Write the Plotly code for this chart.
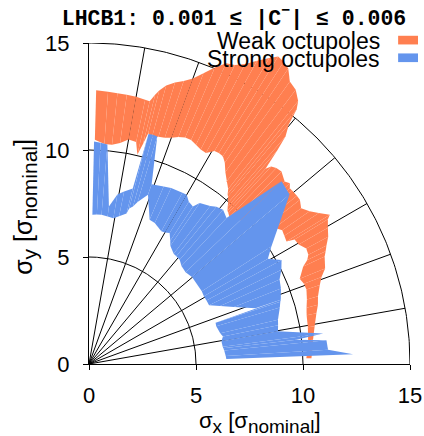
import numpy as np
import plotly.graph_objects as go

# Dynamic aperture bands: angle in degrees, min / max amplitude over seeds [sigma]
weak_theta = [88.5, 86.0, 84.0, 82.0, 80.0, 78.0, 77.0, 76.2, 75.6, 74.5, 73.0, 71.5,
              70.0, 68.5, 67.0, 65.5, 64.0, 62.5, 61.0, 59.5, 58.4, 57.2, 56.0, 54.6,
              53.0, 51.5, 50.8, 50.2, 49.2, 48.6, 47.9, 47.3, 46.3, 45.0, 43.0, 42.0,
              41.2, 40.5, 39.0, 37.9, 36.3, 34.7, 33.3, 31.8, 31.2, 29.7, 28.0, 26.5,
              25.5, 24.5, 22.0, 20.5, 18.9, 16.5, 14.5, 12.6, 9.5, 6.2, 3.5, 1.5]
weak_r_lo = [10.48, 10.30, 10.30, 10.43, 10.65, 10.60, 10.04, 10.60, 11.13, 11.00, 11.10, 11.15,
             11.25, 11.40, 11.50, 11.50, 11.40, 11.30, 11.27, 11.55, 11.58, 11.55, 11.35, 11.00,
             10.70, 10.45, 10.25, 10.15, 9.95, 9.80, 9.65, 9.60, 9.50, 9.60, 9.80, 9.90,
             10.00, 12.20, 11.64, 11.26, 10.76, 10.98, 10.92, 10.86, 11.23, 11.28, 11.50, 11.45,
             11.30, 11.00, 10.62, 10.72, 10.74, 10.62, 10.50, 10.42, 10.37, 10.30, 10.22, 10.16]
weak_r_hi = [12.80, 12.75, 12.72, 12.70, 12.68, 12.62, 12.60, 12.95, 13.20, 13.50, 13.75, 13.95,
             14.20, 14.60, 15.05, 15.45, 15.55, 15.80, 16.20, 16.60, 16.87, 16.80, 16.65, 16.20,
             16.05, 15.70, 15.35, 14.60, 14.05, 13.30, 12.30, 12.55, 12.67, 12.72, 12.50, 12.63,
             12.47, 12.48, 12.50, 12.49, 12.30, 12.54, 12.85, 13.24, 13.05, 12.85, 12.66, 12.40,
             12.25, 12.10, 11.90, 11.60, 11.40, 11.16, 11.05, 10.89, 10.69, 10.53, 10.45, 10.40]

strong_theta = [88.7, 87.0, 85.2, 82.8, 80.5, 78.5, 76.0, 75.5, 74.4, 73.3, 70.8, 67.2,
                65.0, 61.4, 60.0, 58.4, 56.6, 55.5, 52.5, 51.0, 49.0, 46.7, 43.5, 40.2,
                32.8, 30.5, 28.4, 26.1, 23.9, 21.5, 18.5, 18.0, 16.5, 13.2, 11.6, 9.8,
                7.4, 6.7, 5.7, 3.4, 2.1]
strong_r_lo = [6.98, 7.00, 7.00, 6.95, 6.91, 7.05, 7.25, 7.50, 7.64, 7.90, 8.38, 7.31,
               7.27, 7.06, 7.10, 7.19, 6.90, 6.71, 6.50, 6.48, 6.46, 6.30, 6.22, 6.30,
               6.27, 6.23, 6.24, 6.25, 6.70, 7.28, 8.20, 6.22, 6.20, 6.30, 6.39, 6.28,
               6.30, 6.32, 6.35, 6.40, 6.42]
strong_r_hi = [10.40, 10.35, 10.29, 7.42, 8.03, 8.23, 8.45, 11.10, 11.12, 11.10, 8.90, 9.00,
               9.08, 9.12, 9.13, 8.90, 8.82, 9.13, 9.30, 9.46, 9.55, 9.37, 12.40, 12.27,
               10.14, 9.70, 10.23, 10.01, 9.74, 9.64, 9.45, 9.40, 9.30, 9.07, 9.02, 8.96,
               11.03, 9.76, 11.15, 11.19, 12.35]

series_names = ["Weak octupoles", "Strong octupoles"]
series_colors = ["#FF7F50", "#6495ED"]

# Polar grid
grid_radii = [5, 10, 15]
grid_angles = [10, 20, 30, 40, 50, 60, 70, 80]
axis_ticks = [0, 5, 10, 15]


def band_quads(theta, r_lo, r_hi):
    """One closed quadrilateral per pair of neighbouring angles."""
    t = np.radians(np.asarray(theta, dtype=float))
    lo = np.asarray(r_lo, dtype=float)
    hi = np.asarray(r_hi, dtype=float)
    quads = []
    for i in range(len(t) - 1):
        rr = np.array([hi[i], hi[i + 1], lo[i + 1], lo[i], hi[i]])
        tt = np.array([t[i], t[i + 1], t[i + 1], t[i], t[i]])
        quads.append((rr * np.cos(tt), rr * np.sin(tt)))
    return quads


fig = go.Figure()

# arcs
for r in grid_radii:
    phi = np.radians(np.linspace(0, 90, 181))
    fig.add_trace(go.Scatter(x=r * np.cos(phi), y=r * np.sin(phi), mode="lines",
                             line=dict(color="black", width=1), hoverinfo="skip"))
# radial lines
rx, ry = [], []
rmax = max(grid_radii)
for a in grid_angles:
    rx += [0, rmax * np.cos(np.radians(a)), None]
    ry += [0, rmax * np.sin(np.radians(a)), None]
fig.add_trace(go.Scatter(x=rx, y=ry, mode="lines", line=dict(color="black", width=1),
                         hoverinfo="skip"))

bands = [(weak_theta, weak_r_lo, weak_r_hi), (strong_theta, strong_r_lo, strong_r_hi)]
for (th, lo, hi), name, col in zip(bands, series_names, series_colors):
    for qx, qy in band_quads(th, lo, hi):
        fig.add_trace(go.Scatter(x=qx, y=qy, mode="lines", fill="toself", fillcolor=col,
                                 line=dict(color=col, width=0), name=name,
                                 hoverinfo="skip"))

axis_common = dict(range=[0, 15], tickvals=axis_ticks, ticks="outside", ticklen=5,
                   tickwidth=1.2, tickcolor="black", showline=True, linecolor="black",
                   linewidth=1.3, showgrid=False, zeroline=False, automargin=False,
                   tickfont=dict(family="Liberation Sans", size=22, color="black"))

fig.update_layout(
    width=424, height=436,
    margin=dict(l=89, r=14, t=43, b=72),
    plot_bgcolor="white", paper_bgcolor="white",
    showlegend=False,
    xaxis=dict(**axis_common, ticklabelstandoff=6),
    yaxis=dict(**axis_common, ticklabelstandoff=9),
    title=dict(text="<b>LHCB1: 0.001 ≤ |C<sup>−</sup>| ≤ 0.006</b>",
               x=234 / 424, xanchor="center", y=1 - 17 / 436, yanchor="middle",
               font=dict(family="Liberation Mono", size=21.5, color="black")),
)

# axis titles
fig.add_annotation(
    text='σ<sub><span style="font-size:19px">x</span></sub> '
         '[σ<sub><span style="font-size:19px">nominal</span></sub>]',
    xref="paper", yref="paper", x=0.533, y=-0.183, xanchor="center", yanchor="middle",
    showarrow=False, font=dict(family="Liberation Sans", size=22, color="black"))
fig.add_annotation(
    text='σ<sub><span style="font-size:21px">y</span></sub> '
         '[σ<sub><span style="font-size:21px">nominal</span></sub>]',
    xref="paper", yref="paper", x=-0.2, y=0.489, xanchor="center", yanchor="middle",
    textangle=-90, showarrow=False,
    font=dict(family="Liberation Sans", size=25, color="black"))

# legend: label text with a colour patch to its right
leg_y = [1.006, 0.951]
for name, col, yy in zip(series_names, series_colors, leg_y):
    fig.add_annotation(text=name, xref="paper", yref="paper", x=0.913, y=yy,
                       xanchor="right", yanchor="middle", showarrow=False,
                       font=dict(family="Liberation Sans", size=23, color="black"))
for col, yy in zip(series_colors, [1.008, 0.953]):
    fig.add_shape(type="rect", xref="paper", yref="paper", x0=0.963, x1=1.025,
                  y0=yy - 0.0125, y1=yy + 0.0145, fillcolor=col, line=dict(width=0))

fig.write_html("out.html")
